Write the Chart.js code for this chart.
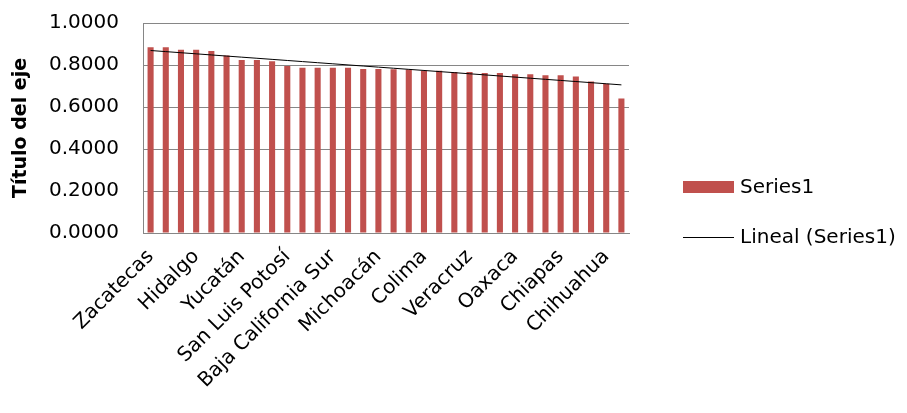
<!DOCTYPE html>
<html>
<head>
<meta charset="utf-8">
<script src="https://cdn.jsdelivr.net/npm/chart.js@4/dist/chart.umd.min.js"></script>
<style>
  body { margin: 0; background: #fff; }
</style>
</head>
<body>
<canvas id="grafico" width="907" height="413"></canvas>
<script>
// Estados (solo se rotula uno de cada tres en el eje)
const estados = [
  'Zacatecas', 'Durango', 'Tlaxcala', 'Hidalgo', 'Guerrero', 'Nayarit',
  'Yucatán', 'Puebla', 'Tabasco', 'San Luis Potosí', 'Campeche', 'Sinaloa',
  'Baja California Sur', 'Morelos', 'Tamaulipas', 'Michoacán', 'Sonora', 'Guanajuato',
  'Colima', 'Jalisco', 'Quintana Roo', 'Veracruz', 'México', 'Querétaro',
  'Oaxaca', 'Aguascalientes', 'Coahuila', 'Chiapas', 'Nuevo León', 'Baja California',
  'Chihuahua', 'Distrito Federal'
];

const valores = [
  0.884, 0.884, 0.873, 0.873, 0.867, 0.845, 0.824, 0.824,
  0.818, 0.795, 0.787, 0.787, 0.787, 0.787, 0.781, 0.781,
  0.780, 0.778, 0.773, 0.773, 0.767, 0.767, 0.762, 0.762,
  0.756, 0.756, 0.751, 0.751, 0.745, 0.721, 0.711, 0.641
];

const marcasY = [0, 0.2, 0.4, 0.6, 0.8, 1.0];

const ROJO = '#C0504D';
const GRIS = '#868686';
const FUENTE = "'DejaVu Sans', sans-serif";

// Tendencia lineal (mínimos cuadrados) calculada sobre la serie
function tendenciaLineal(ys) {
  const n = ys.length;
  let sx = 0, sy = 0, sxy = 0, sxx = 0;
  ys.forEach((y, i) => {
    const x = i + 1;
    sx += x; sy += y; sxy += x * y; sxx += x * x;
  });
  const m = (n * sxy - sx * sy) / (n * sxx - sx * sx);
  const b = (sy - m * sx) / n;
  return ys.map((_, i) => m * (i + 1) + b);
}

const tendencia = tendenciaLineal(valores);

// Leyenda dibujada a mano a la derecha del gráfico
const leyenda = {
  id: 'leyendaDerecha',
  afterDraw(chart) {
    const ctx = chart.ctx;
    const x = 683;
    ctx.save();
    ctx.font = '20px ' + FUENTE;
    ctx.textBaseline = 'middle';
    ctx.textAlign = 'left';

    ctx.fillStyle = ROJO;
    ctx.fillRect(x, 181, 51, 12);
    ctx.fillStyle = '#000';
    ctx.fillText(chart.data.datasets[0].label, 740, 188);

    ctx.strokeStyle = '#000';
    ctx.lineWidth = 1;
    ctx.beginPath();
    ctx.moveTo(x, 237.5);
    ctx.lineTo(x + 51, 237.5);
    ctx.stroke();
    ctx.fillText(chart.data.datasets[1].label, 740, 238);
    ctx.restore();
  }
};

const ctx = document.getElementById('grafico').getContext('2d');
const grafico = new Chart(ctx, {
  type: 'bar',
  data: {
    labels: estados,
    datasets: [{
      label: 'Series1',
      data: valores,
      backgroundColor: ROJO,
      barPercentage: 0.4,
      categoryPercentage: 1.0,
      order: 2
    }, {
      type: 'line',
      label: 'Lineal (Series1)',
      data: tendencia,
      borderColor: '#000',
      borderWidth: 1,
      pointRadius: 0,
      fill: false,
      order: 1
    }]
  },
  options: {
    responsive: false,
    animation: false,
    layout: { padding: { top: 23, right: 278, left: 0, bottom: 0 } },
    plugins: {
      legend: { display: false },
      tooltip: { enabled: false }
    },
    scales: {
      x: {
        grid: { display: false },
        border: { display: true, color: GRIS, width: 1 },
        afterFit(scale) { scale.height = 180; },
        ticks: {
          autoSkip: false,
          maxRotation: 45,
          minRotation: 45,
          padding: 4,
          color: '#000',
          font: { family: FUENTE, size: 20 },
          callback(valor, i) { return i % 3 === 0 ? estados[i] : ''; }
        }
      },
      y: {
        min: 0,
        max: 1,
        afterFit(scale) {
          scale.width = 143;
          // el área del gráfico la fija el padding del layout
          scale.paddingTop = 0;
          scale.paddingBottom = 0;
        },
        afterBuildTicks(scale) { scale.ticks = marcasY.map(v => ({ value: v })); },
        grid: { color: GRIS, drawTicks: false },
        border: { display: true, color: GRIS, width: 1 },
        ticks: {
          padding: 24,
          color: '#000',
          font: { family: FUENTE, size: 20 },
          callback(v) { return v.toFixed(4); }
        },
        title: {
          display: true,
          text: 'Título del eje',
          color: '#000',
          padding: { top: 10, bottom: 0 },
          font: { family: FUENTE, size: 19, weight: 'bold' }
        }
      }
    }
  },
  plugins: [leyenda]
});
</script>
</body>
</html>
